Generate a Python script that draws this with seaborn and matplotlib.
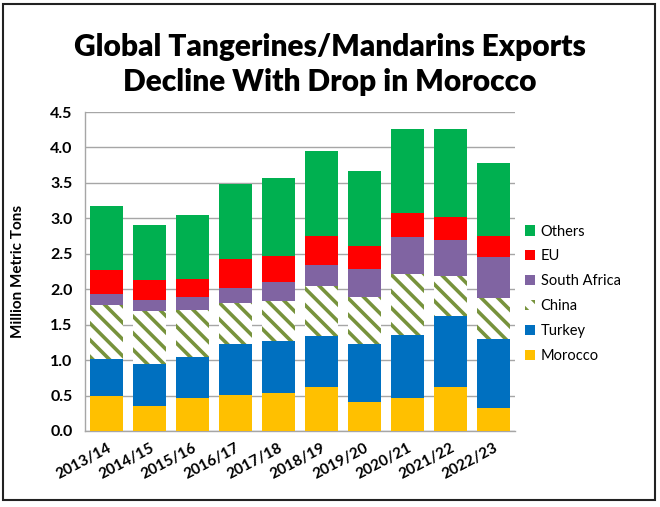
import numpy as np
import seaborn as sns
import matplotlib.pyplot as plt
from matplotlib.patches import Patch, Rectangle

sns.set_theme(style="white")
plt.rcParams['font.family'] = ["Lato", "DejaVu Sans"]
plt.rcParams['hatch.linewidth'] = 2.6
plt.rcParams['text.color'] = "black"
plt.rcParams['axes.labelcolor'] = "black"
plt.rcParams['xtick.color'] = "black"
plt.rcParams['ytick.color'] = "black"

seasons = ["2013/14", "2014/15", "2015/16", "2016/17", "2017/18",
           "2018/19", "2019/20", "2020/21", "2021/22", "2022/23"]
morocco = [0.49, 0.35, 0.47, 0.51, 0.54, 0.62, 0.41, 0.47, 0.62, 0.32]
turkey = [0.53, 0.60, 0.57, 0.71, 0.73, 0.72, 0.82, 0.89, 1.00, 0.98]
china = [0.76, 0.74, 0.66, 0.59, 0.57, 0.71, 0.66, 0.86, 0.57, 0.58]
south_africa = [0.15, 0.16, 0.19, 0.21, 0.26, 0.29, 0.39, 0.51, 0.51, 0.57]
eu = [0.34, 0.28, 0.25, 0.40, 0.37, 0.41, 0.33, 0.34, 0.32, 0.30]
others = [0.90, 0.78, 0.91, 1.06, 1.10, 1.20, 1.06, 1.19, 1.24, 1.03]

series = [("Morocco", morocco, "#FFC000"),
          ("Turkey", turkey, "#0070C0"),
          ("China", china, "#77933C"),
          ("South Africa", south_africa, "#8064A2"),
          ("EU", eu, "#FF0000"),
          ("Others", others, "#00B050")]

fig = plt.figure(figsize=(6.6, 5.07), dpi=100)
ax = fig.add_axes([0.129, 0.150, 0.651, 0.629])

# cumulative stacks, drawn from the top down so each lower stack covers the one above
cum = np.cumsum([s[1] for s in series], axis=0)
for i in range(len(series) - 1, -1, -1):
    name, vals, col = series[i]
    if name == "China":
        sns.barplot(x=seasons, y=cum[i], color="white", edgecolor=col, hatch="\\\\",
                    linewidth=0, width=0.76, saturation=1, ax=ax, zorder=3)
    else:
        sns.barplot(x=seasons, y=cum[i], color=col, linewidth=0, width=0.76,
                    saturation=1, ax=ax, zorder=3)

ax.set_ylim(0, 4.5)
ax.set_yticks(np.arange(0, 4.51, 0.5))
ax.set_yticklabels([f"{v:.1f}" for v in np.arange(0, 4.51, 0.5)], fontsize=11.5, fontweight="bold")
ax.set_xlim(-0.5, 9.5)
ax.set_xticks(range(len(seasons)))
ax.set_xticklabels(seasons, rotation=28, ha="right", rotation_mode="anchor",
                   fontsize=11, fontweight="bold")
ax.tick_params(axis="x", length=0, pad=7)
ax.tick_params(axis="y", length=0, pad=9)
ax.yaxis.grid(True, color="#A6A6A6", linewidth=1)
ax.set_axisbelow(True)
for side in ["top", "right"]:
    ax.spines[side].set_visible(False)
for side in ["left", "bottom"]:
    ax.spines[side].set_color("#A6A6A6")
    ax.spines[side].set_linewidth(1)
ax.set_ylabel("Million Metric Tons", fontsize=11, fontweight="bold", labelpad=18)
ax.set_xlabel("")

fig.text(0.5, 0.873, "Global Tangerines/Mandarins Exports\nDecline With Drop in Morocco",
         ha="center", va="center", fontsize=21.5, fontweight="heavy", linespacing=1.3)

handles = [Patch(facecolor="white", edgecolor=c, hatch="\\\\", linewidth=0, label=n)
           if n == "China" else Patch(facecolor=c, linewidth=0, label=n)
           for n, v, c in series[::-1]]
fig.legend(handles=handles, loc="upper left", bbox_to_anchor=(0.776, 0.583),
           frameon=False, fontsize=10.5, handlelength=0.7, handleheight=0.7,
           handletextpad=0.35, labelspacing=0.75)

fig.patches.append(Rectangle((0.005, 0.013), 0.988, 0.98, transform=fig.transFigure,
                             fill=False, edgecolor="#222222", linewidth=1.5))

fig.savefig("out.png", dpi=100)
